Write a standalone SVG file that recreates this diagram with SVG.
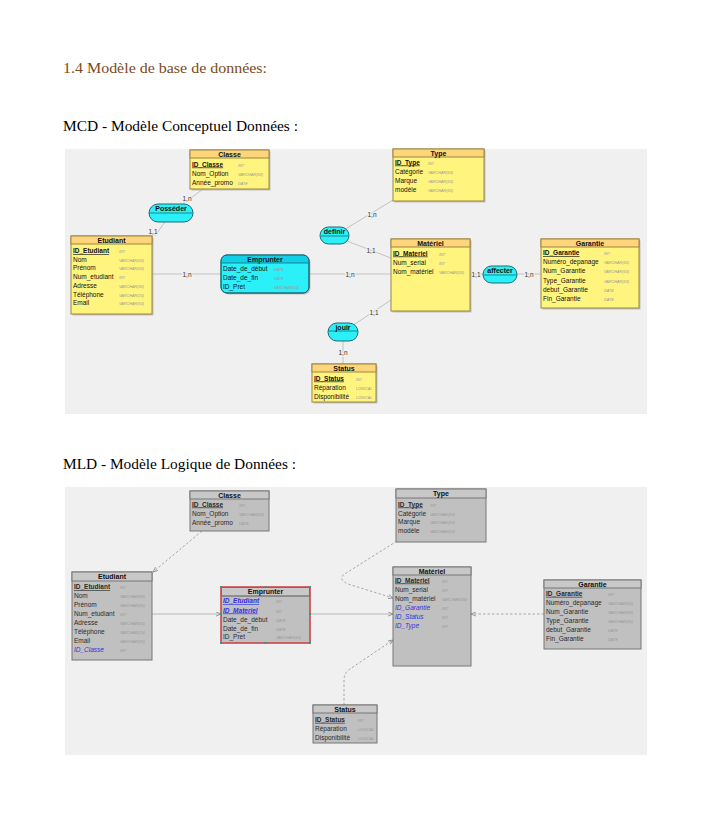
<svg xmlns="http://www.w3.org/2000/svg" width="707" height="826" viewBox="0 0 707 826">
<style>
.title{font-family:"Liberation Serif","Noto Serif",serif;font-size:15px}
.bg{fill:#f0f0f0}
.sh{fill:#9a9a9a;opacity:.55}
.eb{fill:#fff47e;stroke:#9c8640;stroke-width:1}
.eh{fill:#ffd57c;stroke:#9c8640;stroke-width:1}
.mb{fill:#c0c0c0;stroke:#777;stroke-width:1}
.mh{fill:#c8c8c8;stroke:#777;stroke-width:1}
.pill{fill:#2cf0f8;stroke:#1b6a74;stroke-width:1}
.emh{fill:#12cfe8}
text{font-family:"Liberation Sans",Arial,sans-serif}
.hd{font-size:7px;font-weight:bold;text-anchor:middle;fill:#111}
.f{font-size:6.5px;fill:#111}
.mf{font-size:6.5px;fill:#2a2a2a}
.pk{font-weight:bold;text-decoration:underline}
.fk{fill:#3030e0;font-style:italic}
.ty{font-size:3.8px;font-style:italic;fill:#999}
.card{font-size:6.5px;fill:#333;text-anchor:middle;stroke:#f0f0f0;stroke-width:2;paint-order:stroke}
.cn{stroke:#c2c2c2;stroke-width:1;fill:none}
.dl{stroke:#a6a6a6;stroke-width:1;fill:none;stroke-dasharray:2.5,2}
.sl{stroke:#b8b8b8;stroke-width:1;fill:none}
.hdl{fill:#1f9e9e}
</style>
<defs>
<marker id="ar" viewBox="0 0 6 6" refX="6" refY="3" markerWidth="5" markerHeight="5" orient="auto">
<path d="M0,0.5 L6,3 L0,5.5" fill="none" stroke="#8a8a8a" stroke-width="1"/>
</marker>
</defs>
<rect width="707" height="826" fill="#fff"/>
<text class="title" x="63" y="73" fill="#7c4a22" textLength="204" lengthAdjust="spacingAndGlyphs">1.4 Modèle de base de données:</text>
<text class="title" x="63" y="131" fill="#000" textLength="235" lengthAdjust="spacingAndGlyphs">MCD - Modèle Conceptuel Données :</text>
<text class="title" x="63" y="469" fill="#000" textLength="233" lengthAdjust="spacingAndGlyphs">MLD - Modèle Logique de Données :</text>

<rect class="bg" x="65" y="149" width="582" height="265"/>
<rect class="bg" x="65" y="487" width="582" height="268"/>

<!-- MCD connectors -->
<g id="mcd-connectors">
<line class="cn" x1="203" y1="189" x2="171" y2="213"/>
<line class="cn" x1="171" y1="213" x2="155" y2="236"/>
<line class="cn" x1="152" y1="274" x2="221" y2="274"/>
<line class="cn" x1="309" y1="274" x2="391" y2="274"/>
<line class="cn" x1="334" y1="236" x2="393" y2="200"/>
<line class="cn" x1="334" y1="236" x2="391" y2="258"/>
<line class="cn" x1="470" y1="274" x2="541" y2="274"/>
<line class="cn" x1="343" y1="332" x2="391" y2="300"/>
<line class="cn" x1="343" y1="332" x2="343" y2="364"/>
<text class="card" x="187" y="201">1,n</text>
<text class="card" x="153" y="234">1,1</text>
<text class="card" x="187" y="276.5">1,n</text>
<text class="card" x="350" y="276.5">1,n</text>
<text class="card" x="372" y="217">1,n</text>
<text class="card" x="371" y="253">1,1</text>
<text class="card" x="476" y="276.5">1,1</text>
<text class="card" x="529" y="276.5">1,n</text>
<text class="card" x="374" y="315">1,1</text>
<text class="card" x="343" y="355">1,n</text>
</g>

<!-- MCD entities -->
<g id="mcd-classe">
<rect class="sh" x="191.5" y="151.5" width="79" height="39"/>
<rect class="eb" x="190" y="150" width="79" height="39"/>
<rect class="eh" x="190" y="150" width="79" height="8"/>
<text class="hd" x="229.5" y="156.5">Classe</text>
<text class="f pk" x="192" y="166.5">ID_Classe</text><text class="ty" x="238" y="166.5">INT</text>
<text class="f" x="192" y="175.5">Nom_Option</text><text class="ty" x="238" y="175.5">VARCHAR(50)</text>
<text class="f" x="192" y="184.5">Année_promo</text><text class="ty" x="238" y="184.5">DATE</text>
</g>
<g id="mcd-posseder">
<rect class="pill" x="149" y="204" width="44" height="18" rx="9"/>
<line x1="149.5" y1="213" x2="192.5" y2="213" stroke="#1b6a74" stroke-width="0.8"/>
<text class="hd" x="171" y="211">Posséder</text>
</g>
<g id="mcd-etudiant">
<rect class="sh" x="72.5" y="237.5" width="81" height="78"/>
<rect class="eb" x="71" y="236" width="81" height="78"/>
<rect class="eh" x="71" y="236" width="81" height="8"/>
<text class="hd" x="111.5" y="242.5">Etudiant</text>
<text class="f pk" x="73" y="253">ID_Etudiant</text><text class="ty" x="119" y="253">INT</text>
<text class="f" x="73" y="261.7">Nom</text><text class="ty" x="119" y="261.7">VARCHAR(50)</text>
<text class="f" x="73" y="270.4">Prénom</text><text class="ty" x="119" y="270.4">VARCHAR(50)</text>
<text class="f" x="73" y="279.1">Num_etudiant</text><text class="ty" x="119" y="279.1">INT</text>
<text class="f" x="73" y="287.8">Adresse</text><text class="ty" x="119" y="287.8">VARCHAR(50)</text>
<text class="f" x="73" y="296.5">Téléphone</text><text class="ty" x="119" y="296.5">VARCHAR(15)</text>
<text class="f" x="73" y="305.2">Email</text><text class="ty" x="119" y="305.2">VARCHAR(50)</text>
</g>
<g id="mcd-emprunter">
<rect class="sh" x="222.5" y="256.5" width="88" height="38" rx="6"/>
<rect class="pill" x="221" y="255" width="88" height="38" rx="6"/>
<path class="emh" d="M227,255.5 H303 A5.5,5.5 0 0 1 308.5,261 V263 H221.5 V261 A5.5,5.5 0 0 1 227,255.5 Z"/>
<line x1="221.5" y1="263" x2="308.5" y2="263" stroke="#1b6a74" stroke-width="0.8"/>
<rect x="221" y="255" width="88" height="38" rx="6" fill="none" stroke="#1b6a74"/>
<text class="hd" x="265" y="261.5">Emprunter</text>
<text class="f" x="223" y="271">Date_de_début</text><text class="ty" x="274" y="271">DATE</text>
<text class="f" x="223" y="280">Date_de_fin</text><text class="ty" x="274" y="280">DATE</text>
<text class="f" x="223" y="289">ID_Pret</text><text class="ty" x="274" y="289">VARCHAR(50)</text>
</g>
<g id="mcd-definir">
<rect class="pill" x="320" y="227" width="29" height="17" rx="8.5"/>
<line x1="320.5" y1="236" x2="348.5" y2="236" stroke="#1b6a74" stroke-width="0.8"/>
<text class="hd" x="334.5" y="234">definir</text>
</g>
<g id="mcd-type">
<rect class="sh" x="394.5" y="150.5" width="91" height="52"/>
<rect class="eb" x="393" y="149" width="91" height="52"/>
<rect class="eh" x="393" y="149" width="91" height="8"/>
<text class="hd" x="438.5" y="155.5">Type</text>
<text class="f pk" x="395" y="164.5">ID_Type</text><text class="ty" x="428" y="164.5">INT</text>
<text class="f" x="395" y="174">Catégorie</text><text class="ty" x="428" y="174">VARCHAR(50)</text>
<text class="f" x="395" y="183">Marque</text><text class="ty" x="428" y="183">VARCHAR(50)</text>
<text class="f" x="395" y="192">modèle</text><text class="ty" x="428" y="192">VARCHAR(50)</text>
</g>
<g id="mcd-materiel">
<rect class="sh" x="392.5" y="240.5" width="79" height="72"/>
<rect class="eb" x="391" y="239" width="79" height="72"/>
<rect class="eh" x="391" y="239" width="79" height="8"/>
<text class="hd" x="430.5" y="245.5">Matériel</text>
<text class="f pk" x="393" y="255.5">ID_Materiel</text><text class="ty" x="439" y="255.5">INT</text>
<text class="f" x="393" y="264.5">Num_serial</text><text class="ty" x="439" y="264.5">INT</text>
<text class="f" x="393" y="273.5">Nom_matériel</text><text class="ty" x="439" y="273.5">VARCHAR(50)</text>
</g>
<g id="mcd-affecter">
<rect class="pill" x="483" y="266" width="34" height="17" rx="8.5"/>
<line x1="483.5" y1="275" x2="516.5" y2="275" stroke="#1b6a74" stroke-width="0.8"/>
<text class="hd" x="500" y="272.5">affecter</text>
</g>
<g id="mcd-garantie">
<rect class="sh" x="542.5" y="240.5" width="98" height="69"/>
<rect class="eb" x="541" y="239" width="98" height="69"/>
<rect class="eh" x="541" y="239" width="98" height="8"/>
<text class="hd" x="590" y="245.5">Garantie</text>
<text class="f pk" x="543" y="255">ID_Garantie</text><text class="ty" x="604" y="255">INT</text>
<text class="f" x="543" y="264.2">Numéro_depanage</text><text class="ty" x="604" y="264.2">VARCHAR(50)</text>
<text class="f" x="543" y="273.4">Num_Garantie</text><text class="ty" x="604" y="273.4">VARCHAR(50)</text>
<text class="f" x="543" y="282.6">Type_Garantie</text><text class="ty" x="604" y="282.6">VARCHAR(50)</text>
<text class="f" x="543" y="291.8">debut_Garantie</text><text class="ty" x="604" y="291.8">DATE</text>
<text class="f" x="543" y="301">Fin_Garantie</text><text class="ty" x="604" y="301">DATE</text>
</g>
<g id="mcd-jouir">
<rect class="pill" x="328" y="323" width="30" height="18" rx="9"/>
<line x1="328.5" y1="331" x2="357.5" y2="331" stroke="#1b6a74" stroke-width="0.8"/>
<text class="hd" x="343" y="329.5">jouir</text>
</g>
<g id="mcd-status">
<rect class="sh" x="313.5" y="365.5" width="64" height="38"/>
<rect class="eb" x="312" y="364" width="64" height="38"/>
<rect class="eh" x="312" y="364" width="64" height="8"/>
<text class="hd" x="344" y="370.5">Status</text>
<text class="f pk" x="314" y="380.5">ID_Status</text><text class="ty" x="356" y="380.5">INT</text>
<text class="f" x="314" y="389.5">Réparation</text><text class="ty" x="356" y="389.5">LOGICAL</text>
<text class="f" x="314" y="398.5">Disponibilité</text><text class="ty" x="356" y="398.5">LOGICAL</text>
</g>

<!-- MLD connectors -->
<g id="mld-connectors">
<line class="dl" x1="202" y1="531" x2="153" y2="572" marker-end="url(#ar)"/>
<line class="sl" x1="152" y1="614" x2="221" y2="614" marker-end="url(#ar)"/>
<line class="sl" x1="310" y1="614" x2="393" y2="614" marker-end="url(#ar)"/>
<path class="dl" d="M397,541 L343,575 Q339,580 348,584 L393,598" marker-end="url(#ar)"/>
<line class="dl" x1="544" y1="614" x2="471" y2="614" marker-end="url(#ar)"/>
<path class="dl" d="M344,705 L344,680 Q344,673 350,669 L393,640" marker-end="url(#ar)"/>
</g>

<!-- MLD entities -->
<g id="mld-classe">
<rect class="mb" x="190" y="491" width="79" height="40"/>
<rect class="mh" x="190" y="491" width="79" height="8"/>
<text class="hd" x="229.5" y="497.5">Classe</text>
<text class="mf pk" x="192" y="506.5">ID_Classe</text><text class="ty" x="239" y="506.5">INT</text>
<text class="mf" x="192" y="515.5">Nom_Option</text><text class="ty" x="239" y="515.5">VARCHAR(50)</text>
<text class="mf" x="192" y="525">Année_promo</text><text class="ty" x="239" y="525">DATE</text>
</g>
<g id="mld-etudiant">
<rect class="mb" x="72" y="572" width="80" height="88"/>
<rect class="mh" x="72" y="572" width="80" height="9"/>
<text class="hd" x="112" y="579">Etudiant</text>
<text class="mf pk" x="74" y="589.2">ID_Etudiant</text><text class="ty" x="120" y="589.2">INT</text>
<text class="mf" x="74" y="598.2">Nom</text><text class="ty" x="120" y="598.2">VARCHAR(50)</text>
<text class="mf" x="74" y="607.2">Prénom</text><text class="ty" x="120" y="607.2">VARCHAR(50)</text>
<text class="mf" x="74" y="616.2">Num_etudiant</text><text class="ty" x="120" y="616.2">INT</text>
<text class="mf" x="74" y="625.2">Adresse</text><text class="ty" x="120" y="625.2">VARCHAR(50)</text>
<text class="mf" x="74" y="633.8">Téléphone</text><text class="ty" x="120" y="633.8">VARCHAR(15)</text>
<text class="mf" x="74" y="642.8">Email</text><text class="ty" x="120" y="642.8">VARCHAR(50)</text>
<text class="mf fk" x="74" y="651.8">ID_Classe</text><text class="ty" x="120" y="651.8">INT</text>
</g>
<g id="mld-emprunter">
<rect class="mb" x="221" y="587" width="89" height="56" stroke="#e5383d"/>
<rect class="mh" x="221.5" y="587.5" width="88" height="8.5" stroke="none"/>
<line x1="221" y1="596" x2="310" y2="596" stroke="#777" stroke-width="0.8"/>
<rect x="221" y="587" width="89" height="56" fill="none" stroke="#e5383d" stroke-width="1.2"/>
<text class="hd" x="265.5" y="594">Emprunter</text>
<text class="mf pk fk" x="223" y="603.2">ID_Etudiant</text><text class="ty" x="276" y="603.2">INT</text>
<text class="mf pk fk" x="223" y="612.5">ID_Materiel</text><text class="ty" x="276" y="612.5">INT</text>
<text class="mf" x="223" y="621.5">Date_de_début</text><text class="ty" x="276" y="621.5">DATE</text>
<text class="mf" x="223" y="630.5">Date_de_fin</text><text class="ty" x="276" y="630.5">DATE</text>
<text class="mf" x="223" y="639.2">ID_Pret</text><text class="ty" x="276" y="639.2">VARCHAR(50)</text>
<rect class="hdl" x="220" y="586" width="2" height="2"/>
<rect class="hdl" x="264.5" y="586" width="2" height="2"/>
<rect class="hdl" x="309" y="586" width="2" height="2"/>
<rect class="hdl" x="220" y="613" width="2" height="2"/>
<rect class="hdl" x="309" y="613" width="2" height="2"/>
<rect class="hdl" x="220" y="642" width="2" height="2"/>
<rect class="hdl" x="264.5" y="642" width="2" height="2"/>
<rect class="hdl" x="309" y="642" width="2" height="2"/>
</g>
<g id="mld-type">
<rect class="mb" x="396" y="489" width="90" height="53"/>
<rect class="mh" x="396" y="489" width="90" height="9"/>
<text class="hd" x="441" y="496">Type</text>
<text class="mf pk" x="398" y="506.5">ID_Type</text><text class="ty" x="430" y="506.5">INT</text>
<text class="mf" x="398" y="515.5">Catégorie</text><text class="ty" x="430" y="515.5">VARCHAR(50)</text>
<text class="mf" x="398" y="524.2">Marque</text><text class="ty" x="430" y="524.2">VARCHAR(50)</text>
<text class="mf" x="398" y="533.2">modèle</text><text class="ty" x="430" y="533.2">VARCHAR(50)</text>
</g>
<g id="mld-materiel">
<rect class="mb" x="393" y="567" width="78" height="99"/>
<rect class="mh" x="393" y="567" width="78" height="8"/>
<text class="hd" x="432" y="573.5">Matériel</text>
<text class="mf pk" x="395" y="582.5">ID_Materiel</text><text class="ty" x="442" y="582.5">INT</text>
<text class="mf" x="395" y="591.8">Num_serial</text><text class="ty" x="442" y="591.8">INT</text>
<text class="mf" x="395" y="600.8">Nom_matériel</text><text class="ty" x="442" y="600.8">VARCHAR(50)</text>
<text class="mf fk" x="395" y="609.8">ID_Garantie</text><text class="ty" x="442" y="609.8">INT</text>
<text class="mf fk" x="395" y="618.8">ID_Status</text><text class="ty" x="442" y="618.8">INT</text>
<text class="mf fk" x="395" y="627.8">ID_Type</text><text class="ty" x="442" y="627.8">INT</text>
</g>
<g id="mld-garantie">
<rect class="mb" x="544" y="580" width="97" height="69"/>
<rect class="mh" x="544" y="580" width="97" height="8"/>
<text class="hd" x="592.5" y="586.5">Garantie</text>
<text class="mf pk" x="546" y="595.8">ID_Garantie</text><text class="ty" x="608" y="595.8">INT</text>
<text class="mf" x="546" y="605.2">Numéro_depanage</text><text class="ty" x="608" y="605.2">VARCHAR(50)</text>
<text class="mf" x="546" y="614.2">Num_Garantie</text><text class="ty" x="608" y="614.2">VARCHAR(50)</text>
<text class="mf" x="546" y="623.2">Type_Garantie</text><text class="ty" x="608" y="623.2">VARCHAR(50)</text>
<text class="mf" x="546" y="632.2">debut_Garantie</text><text class="ty" x="608" y="632.2">DATE</text>
<text class="mf" x="546" y="641.2">Fin_Garantie</text><text class="ty" x="608" y="641.2">DATE</text>
</g>
<g id="mld-status">
<rect class="mb" x="313" y="705" width="64" height="38"/>
<rect class="mh" x="313" y="705" width="64" height="8"/>
<text class="hd" x="345" y="711.5">Status</text>
<text class="mf pk" x="315" y="721.8">ID_Status</text><text class="ty" x="358" y="721.8">INT</text>
<text class="mf" x="315" y="730.8">Réparation</text><text class="ty" x="358" y="730.8">LOGICAL</text>
<text class="mf" x="315" y="739.8">Disponibilité</text><text class="ty" x="358" y="739.8">LOGICAL</text>
</g>
</svg>
